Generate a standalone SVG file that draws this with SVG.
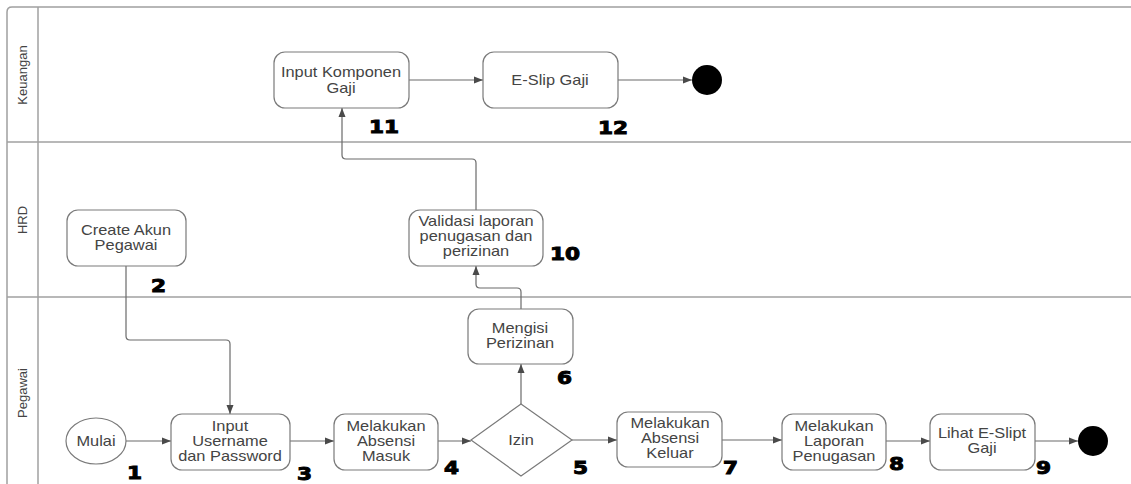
<svg xmlns="http://www.w3.org/2000/svg" width="1131" height="484" viewBox="0 0 1131 484">
<style>
.lane{fill:none;stroke:#a0a0a0;stroke-width:1.5}
.node{fill:#fff;stroke:#7a7a7a;stroke-width:1.2}
.t{font-family:"Liberation Sans",Arial,sans-serif;font-size:14px;fill:#444;text-anchor:middle}
.lt{font-family:"Liberation Sans",Arial,sans-serif;font-size:13px;fill:#444;text-anchor:middle}
.num{font-family:"DejaVu Sans",sans-serif;font-weight:bold;font-size:18px;fill:#000;stroke:#000;stroke-width:1}
.c{fill:none;stroke:#6a6a6a;stroke-width:1.2}
.end{fill:#000}
</style>
<defs>
<marker id="ah" markerWidth="10" markerHeight="8" refX="9" refY="4" orient="auto" markerUnits="userSpaceOnUse">
<path d="M0,0.5 L9,4 L0,7.5 Z" fill="#4a4a4a"/>
</marker>
</defs>
<rect width="1131" height="484" fill="#fff"/>
<g id="lanes">
<path class="lane" d="M7,484 L7,12 Q7,7 12,7 L1131,7"/>
<line class="lane" x1="38" y1="7" x2="38" y2="484"/>
<line class="lane" x1="7" y1="142" x2="1131" y2="142"/>
<line class="lane" x1="7" y1="297" x2="1131" y2="297"/>
<text class="lt" transform="translate(27,75) rotate(-90)">Keuangan</text>
<text class="lt" transform="translate(27,220) rotate(-90)">HRD</text>
<text class="lt" transform="translate(27,393) rotate(-90)">Pegawai</text>
</g>
<g id="connectors">
<line class="c" x1="409" y1="80" x2="483" y2="80" marker-end="url(#ah)"/>
<line class="c" x1="618" y1="80" x2="692" y2="80" marker-end="url(#ah)"/>
<path class="c" d="M476,210 L476,163 Q476,159 472,159 L346,159 Q342,159 342,155 L342,108" marker-end="url(#ah)"/>
<path class="c" d="M521,309 L521,292 Q521,288 517,288 L480,288 Q476,288 476,284 L476,266" marker-end="url(#ah)"/>
<path class="c" d="M126,266 L126,336 Q126,340 130,340 L226,340 Q230,340 230,344 L230,414" marker-end="url(#ah)"/>
<line class="c" x1="126" y1="441" x2="171" y2="441" marker-end="url(#ah)"/>
<line class="c" x1="290" y1="441" x2="334" y2="441" marker-end="url(#ah)"/>
<line class="c" x1="438" y1="441" x2="471" y2="441" marker-end="url(#ah)"/>
<line class="c" x1="521" y1="405" x2="521" y2="364" marker-end="url(#ah)"/>
<line class="c" x1="572" y1="440" x2="617" y2="440" marker-end="url(#ah)"/>
<line class="c" x1="722" y1="440" x2="782" y2="440" marker-end="url(#ah)"/>
<line class="c" x1="886" y1="441" x2="930" y2="441" marker-end="url(#ah)"/>
<line class="c" x1="1035" y1="441" x2="1078" y2="441" marker-end="url(#ah)"/>
</g>
<g id="n11">
<rect class="node" x="274" y="52" width="135" height="56" rx="11"/>
<text class="t" transform="translate(341,0) scale(1.17,1)" y="77">Input Komponen</text>
<text class="t" transform="translate(341,0) scale(1.17,1)" y="93">Gaji</text>
<text class="num" transform="translate(369,133) scale(1.2,1)">11</text>
</g>
<g id="n12">
<rect class="node" x="483" y="52" width="135" height="56" rx="11"/>
<text class="t" transform="translate(550,0) scale(1.17,1)" y="85">E-Slip Gaji</text>
<text class="num" transform="translate(598,134) scale(1.2,1)">12</text>
</g>
<g id="endK"><circle class="end" cx="707" cy="80" r="15"/></g>
<g id="n2">
<rect class="node" x="67" y="210" width="119" height="56" rx="11"/>
<text class="t" transform="translate(126,0) scale(1.17,1)" y="235">Create Akun</text>
<text class="t" transform="translate(126,0) scale(1.17,1)" y="250">Pegawai</text>
<text class="num" transform="translate(151,292) scale(1.2,1)">2</text>
</g>
<g id="n10">
<rect class="node" x="409" y="210" width="134" height="56" rx="11"/>
<text class="t" transform="translate(476,0) scale(1.17,1)" y="226">Validasi laporan</text>
<text class="t" transform="translate(476,0) scale(1.17,1)" y="241">penugasan dan</text>
<text class="t" transform="translate(476,0) scale(1.17,1)" y="256">perizinan</text>
<text class="num" transform="translate(550,260) scale(1.2,1)">10</text>
</g>
<g id="n6">
<rect class="node" x="468" y="309" width="105" height="55" rx="11"/>
<text class="t" transform="translate(520,0) scale(1.17,1)" y="333">Mengisi</text>
<text class="t" transform="translate(520,0) scale(1.17,1)" y="348">Perizinan</text>
<text class="num" transform="translate(557,384) scale(1.2,1)">6</text>
</g>
<g id="n5">
<polygon class="node" points="521,404 572,440 521,476 471,440"/>
<text class="t" transform="translate(521,0) scale(1.17,1)" y="445">Izin</text>
<text class="num" transform="translate(573,474) scale(1.2,1)">5</text>
</g>
<g id="n1">
<ellipse class="node" cx="96" cy="441" rx="30" ry="23"/>
<text class="t" transform="translate(96,0) scale(1.17,1)" y="446">Mulai</text>
<text class="num" transform="translate(127,479) scale(1.2,1)">1</text>
</g>
<g id="n3">
<rect class="node" x="171" y="414" width="119" height="56" rx="11"/>
<text class="t" transform="translate(230,0) scale(1.17,1)" y="431">Input</text>
<text class="t" transform="translate(230,0) scale(1.17,1)" y="446">Username</text>
<text class="t" transform="translate(230,0) scale(1.17,1)" y="461">dan Password</text>
<text class="num" transform="translate(297,480) scale(1.2,1)">3</text>
</g>
<g id="n4">
<rect class="node" x="334" y="414" width="104" height="56" rx="11"/>
<text class="t" transform="translate(386,0) scale(1.17,1)" y="431">Melakukan</text>
<text class="t" transform="translate(386,0) scale(1.17,1)" y="446">Absensi</text>
<text class="t" transform="translate(386,0) scale(1.17,1)" y="461">Masuk</text>
<text class="num" transform="translate(444,474) scale(1.2,1)">4</text>
</g>
<g id="n7">
<rect class="node" x="617" y="412" width="105" height="55" rx="11"/>
<text class="t" transform="translate(670,0) scale(1.17,1)" y="428">Melakukan</text>
<text class="t" transform="translate(670,0) scale(1.17,1)" y="443">Absensi</text>
<text class="t" transform="translate(670,0) scale(1.17,1)" y="458">Keluar</text>
<text class="num" transform="translate(723,474) scale(1.2,1)">7</text>
</g>
<g id="n8">
<rect class="node" x="782" y="414" width="104" height="56" rx="11"/>
<text class="t" transform="translate(834,0) scale(1.17,1)" y="431">Melakukan</text>
<text class="t" transform="translate(834,0) scale(1.17,1)" y="446">Laporan</text>
<text class="t" transform="translate(834,0) scale(1.17,1)" y="461">Penugasan</text>
<text class="num" transform="translate(889,470) scale(1.2,1)">8</text>
</g>
<g id="n9">
<rect class="node" x="930" y="414" width="105" height="56" rx="11"/>
<text class="t" transform="translate(982,0) scale(1.17,1)" y="438">Lihat E-Slipt</text>
<text class="t" transform="translate(982,0) scale(1.17,1)" y="453">Gaji</text>
<text class="num" transform="translate(1036,474) scale(1.2,1)">9</text>
</g>
<g id="endP"><circle class="end" cx="1093" cy="441" r="15"/></g>
</svg>
